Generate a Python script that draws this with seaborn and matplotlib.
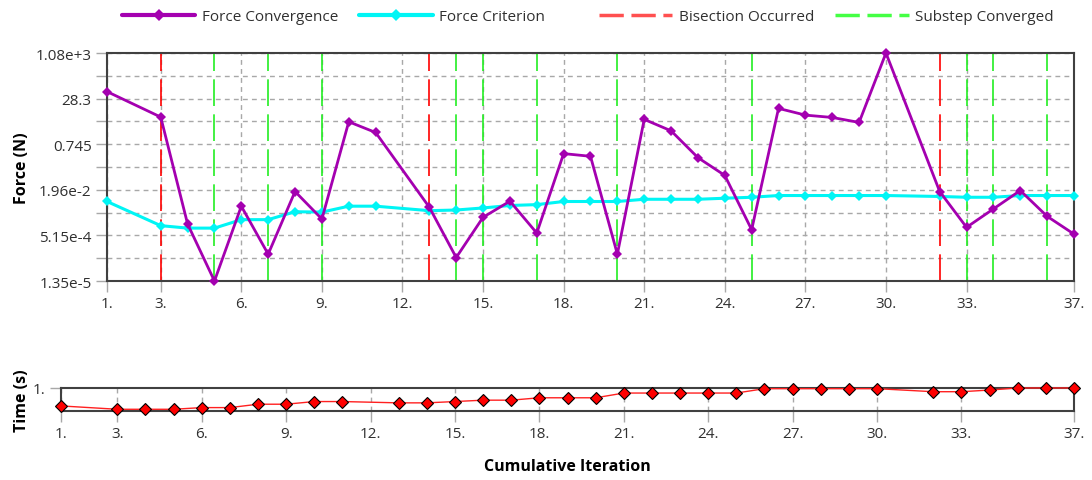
import matplotlib
matplotlib.use("Agg")
import matplotlib.pyplot as plt
from matplotlib.lines import Line2D
from matplotlib.ticker import FixedLocator, NullFormatter
import numpy as np
import seaborn as sns

# cumulative iterations that have a result (2, 12, 31 were discarded by bisection)
iters = [1, 3, 4, 5, 6, 7, 8, 9, 10, 11,
         13, 14, 15, 16, 17, 18, 19, 20, 21, 22, 23, 24, 25, 26, 27, 28, 29, 30,
         32, 33, 34, 35, 36, 37]

force_conv = [49.7, 6.5, 1.28e-3, 1.35e-5, 5.3e-3, 1.15e-4, 0.0171, 1.9e-3, 4.47, 1.9,
              4.86e-3, 8.8e-5, 2.18e-3, 7.9e-3, 6.2e-4, 0.352, 0.284, 1.15e-4, 5.4, 2.17,
              0.255, 0.0618, 8.1e-4, 13.0, 7.6, 6.3, 4.24, 1080.0,
              0.0171, 9.8e-4, 4.26e-3, 0.0185, 2.36e-3, 5.7e-4]

force_crit = [7.7e-3, 1.12e-3, 9.2e-4, 9.2e-4, 1.81e-3, 1.81e-3, 3.4e-3, 3.3e-3, 5.3e-3, 5.3e-3,
              3.7e-3, 3.9e-3, 4.6e-3, 5.6e-3, 6.0e-3, 7.7e-3, 7.7e-3, 7.7e-3, 9.2e-3, 9.2e-3,
              9.2e-3, 1.0e-2, 1.08e-2, 1.24e-2, 1.24e-2, 1.24e-2, 1.24e-2, 1.24e-2,
              1.15e-2, 1.08e-2, 1.08e-2, 1.24e-2, 1.24e-2, 1.24e-2]

time_vals = [0.22, 0.074, 0.074, 0.074, 0.147, 0.147, 0.294, 0.294, 0.41, 0.41,
             0.353, 0.353, 0.41, 0.47, 0.47, 0.574, 0.574, 0.574, 0.78, 0.78,
             0.78, 0.78, 0.78, 0.97, 0.97, 0.97, 0.97, 0.97,
             0.838, 0.838, 0.91, 1.0, 1.0, 1.0]

bisection_iters = [3, 13, 32]
substep_iters = [5, 7, 9, 14, 15, 17, 20, 25, 33, 34, 36]

xtick_vals = [1, 3, 6, 9, 12, 15, 18, 21, 24, 27, 30, 33, 37]
xtick_labels = ["1.", "3.", "6.", "9.", "12.", "15.", "18.", "21.", "24.", "27.", "30.", "33.", "37."]
ytick_labels = ["1.35e-5", "5.15e-4", "1.96e-2", "0.745", "28.3", "1.08e+3"]

sns.set_theme(style="white")
plt.rcParams['font.family'] = ['Open Sans', 'DejaVu Sans']
plt.rcParams['font.size'] = 11

PURPLE = "#a400b0"
CYAN = "#00f5f5"
RED = "#ff0000"
GREEN = "#22ee22"
GRID = "#a8a8a8"
SPINE = "#404040"
TXT = "#303030"

fig = plt.figure(figsize=(10.92, 4.81), dpi=100)
ax1 = fig.add_axes([0.098, 0.4137, 0.8855, 0.474])
ax2 = fig.add_axes([0.0559, 0.1435, 0.9276, 0.0478])

# ---- force plot
lo, hi = np.log10(1.35e-5), np.log10(1.08e3)
step = (hi - lo) / 10
major = [10 ** (lo + 2 * k * step) for k in range(6)]
minor = [10 ** (lo + (2 * k + 1) * step) for k in range(5)]

for x in bisection_iters:
    ax1.axvline(x, color=RED, lw=1.2, dashes=(16, 5), zorder=2)
for x in substep_iters:
    ax1.axvline(x, color=GREEN, lw=1.2, dashes=(16, 5), zorder=2)

sns.lineplot(x=iters, y=force_crit, ax=ax1, color=CYAN, lw=2.2, marker="D",
             markersize=5.5, markeredgewidth=0, zorder=3, clip_on=False)
sns.lineplot(x=iters, y=force_conv, ax=ax1, color=PURPLE, lw=2, marker="D",
             markersize=5.5, markeredgewidth=0, zorder=4, clip_on=False)

ax1.set_yscale("log")
ax1.set_ylim(1.35e-5, 1.08e3)
ax1.set_xlim(1, 37)
ax1.yaxis.set_major_locator(FixedLocator(major))
ax1.yaxis.set_minor_locator(FixedLocator(minor))
ax1.set_yticklabels(ytick_labels)
ax1.yaxis.set_minor_formatter(NullFormatter())
ax1.set_xticks(xtick_vals)
ax1.set_xticklabels(xtick_labels)
ax1.grid(True, which="both", axis="y", color=GRID, lw=1, dashes=(3.5, 3))
ax1.grid(True, which="major", axis="x", color=GRID, lw=1, dashes=(3.5, 3))
ax1.set_ylabel("Force (N)", fontweight="bold", color="black", fontsize=11.5)
ax1.yaxis.set_label_coords(-0.08, 0.5)
ax1.set_xlabel("")

# ---- time plot
sns.lineplot(x=iters, y=time_vals, ax=ax2, color="#ff2020", lw=1, marker="D",
             markersize=6.5, markerfacecolor="#ff0000", markeredgecolor="black",
             markeredgewidth=0.8, zorder=4, clip_on=False)
ax2.set_xlim(1, 37)
ax2.set_ylim(0, 1)
ax2.set_yticks([1])
ax2.set_yticklabels(["1."])
ax2.set_xticks(xtick_vals)
ax2.set_xticklabels(xtick_labels)
ax2.grid(True, which="major", axis="x", color=GRID, lw=1, dashes=(3.5, 3))
ax2.set_ylabel("Time (s)", fontweight="bold", color="black", fontsize=11.5)
ax2.yaxis.set_label_coords(-0.0306, 0.5)
ax2.set_xlabel("Cumulative Iteration", fontweight="bold", color="black", fontsize=11.5)
ax2.xaxis.set_label_coords(0.5, -2.05)

for ax in (ax1, ax2):
    for sp in ax.spines.values():
        sp.set_color(SPINE)
        sp.set_linewidth(1.5)
    ax.tick_params(which="both", direction="out", length=8, width=1, color=GRID,
                   labelcolor=TXT, labelsize=11, pad=3)
    ax.tick_params(axis="x", which="both", bottom=True)
    ax.tick_params(axis="y", which="both", left=True)

# ---- legend (two groups, as in the reference layout)
labels = ["Force Convergence", "Force Criterion", "Bisection Occurred", "Substep Converged"]
handles = [
    Line2D([], [], color=PURPLE, lw=3, marker="D", markersize=6, markeredgewidth=0),
    Line2D([], [], color=CYAN, lw=3, marker="D", markersize=6, markeredgewidth=0),
    Line2D([], [], color="#ff5050", lw=2.5, dashes=(7, 2.2)),
    Line2D([], [], color="#44ff44", lw=2.5, dashes=(7, 2.2)),
]
leg_kw = dict(ncol=2, frameon=False, handlelength=4.8, handletextpad=0.45,
              columnspacing=1.35, fontsize=11, labelcolor=TXT,
              borderpad=0, borderaxespad=0, loc="center left")
fig.legend(handles[:2], labels[:2], bbox_to_anchor=(0.1117, 0.9626), **leg_kw)
fig.legend(handles[2:], labels[2:], bbox_to_anchor=(0.5485, 0.9626), **leg_kw)

fig.savefig("out.png", dpi=100)
